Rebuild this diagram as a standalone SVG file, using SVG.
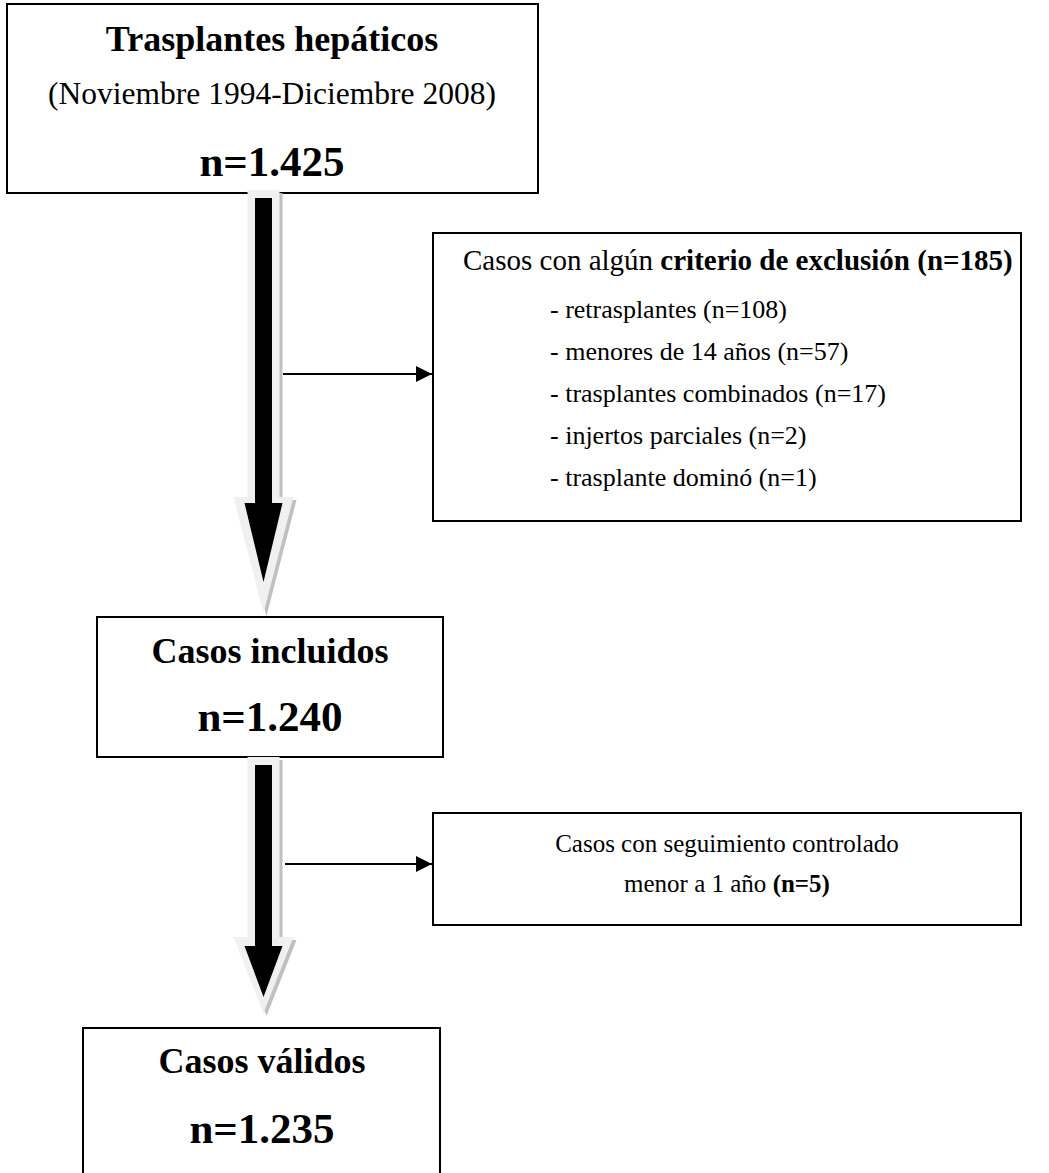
<svg xmlns="http://www.w3.org/2000/svg" width="1049" height="1173" viewBox="0 0 1049 1173">
<style>
.box{fill:#fff;stroke:#000;stroke-width:2}
.t{font-family:"Liberation Serif","Times New Roman",serif;fill:#000}
.b{font-weight:bold}
.c{text-anchor:middle}
.conn{stroke:#000;stroke-width:2;fill:none}
.outer{fill:#f0f0f0}
.shadow{fill:#c0c0c0}
.inner{fill:#000}
</style>
<defs>
<marker id="ah" markerWidth="8" markerHeight="8" refX="8" refY="4" orient="auto" markerUnits="strokeWidth">
<path d="M0,0 L8,4 L0,8 z" fill="#000"/>
</marker>
</defs>
<rect width="1049" height="1173" fill="#fff"/>

<g id="node-trasplantes">
<rect class="box" x="7" y="4" width="531" height="189"/>
<text class="t b c" x="272" y="51" font-size="36">Trasplantes hepáticos</text>
<text class="t c" x="272" y="104" font-size="31.5">(Noviembre 1994-Diciembre 2008)</text>
<text class="t b c" x="272" y="176" font-size="43">n=1.425</text>
</g>

<g id="node-exclusion">
<rect class="box" x="433" y="233" width="588" height="288"/>
<text class="t" x="463" y="270" font-size="29">Casos con algún <tspan class="b">criterio de exclusión (n=185)</tspan></text>
<text class="t" x="550" y="318" font-size="26">- retrasplantes (n=108)</text>
<text class="t" x="550" y="360" font-size="26">- menores de 14 años (n=57)</text>
<text class="t" x="550" y="402" font-size="26">- trasplantes combinados (n=17)</text>
<text class="t" x="550" y="444" font-size="26">- injertos parciales (n=2)</text>
<text class="t" x="550" y="486" font-size="26">- trasplante dominó (n=1)</text>
</g>

<g id="node-incluidos">
<rect class="box" x="97" y="617" width="346" height="140"/>
<text class="t b c" x="270" y="663" font-size="36">Casos incluidos</text>
<text class="t b c" x="270" y="731" font-size="43">n=1.240</text>
</g>

<g id="node-seguimiento">
<rect class="box" x="433" y="813" width="588" height="112"/>
<text class="t c" x="727" y="852" font-size="25">Casos con seguimiento controlado</text>
<text class="t c" x="727" y="892" font-size="25">menor a 1 año <tspan class="b">(n=5)</tspan></text>
</g>

<g id="node-validos">
<rect class="box" x="83" y="1028" width="357" height="150"/>
<text class="t b c" x="262" y="1073" font-size="36">Casos válidos</text>
<text class="t b c" x="262" y="1143" font-size="43">n=1.235</text>
</g>

<g id="connectors">
<g id="bigarrow-1">
<polygon class="shadow" points="250.5,193 282.5,193 282.5,500 296.5,500 266.5,616 236.5,500 250.5,500"/>
<polygon class="outer" points="247.5,190 279.5,190 279.5,497 293.5,497 263.5,613 233.5,497 247.5,497"/>
<polygon class="inner" points="255,198 272,198 272,503 282.5,503 263.5,582 244.5,503 255,503"/>
</g>
<g id="bigarrow-2">
<polygon class="shadow" points="250.5,760 282.5,760 282.5,940 296.5,940 266.5,1016 236.5,940 250.5,940"/>
<polygon class="outer" points="247.5,757 279.5,757 279.5,937 293.5,937 263.5,1013 233.5,937 247.5,937"/>
<polygon class="inner" points="255,765 272,765 272,946 282.5,946 263.5,997 244.5,946 255,946"/>
</g>
<line class="conn" x1="283" y1="374" x2="432" y2="374" marker-end="url(#ah)"/>
<line class="conn" x1="285" y1="864" x2="432" y2="864" marker-end="url(#ah)"/>
</g>
</svg>
